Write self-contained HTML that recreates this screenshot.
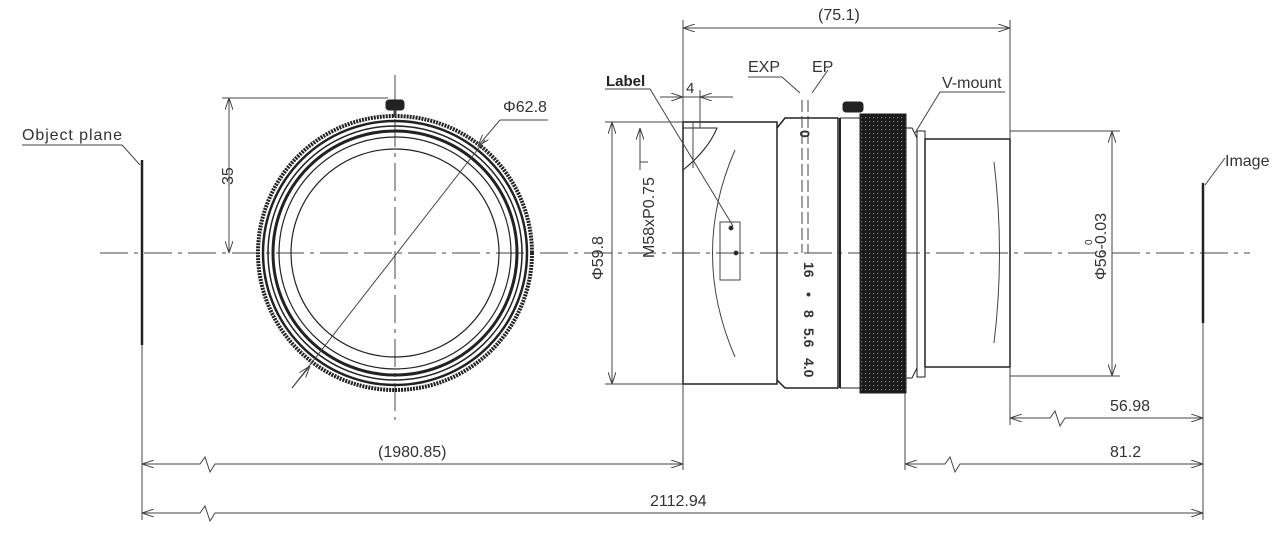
<!DOCTYPE html>
<html><head><meta charset="utf-8"><style>
html,body{margin:0;padding:0;background:#fff;}
svg{display:block}
text{font-family:"Liberation Sans Narrow","Liberation Sans",sans-serif;fill:#333;}
</style></head><body>
<svg width="1280" height="535" viewBox="0 0 1280 535" xmlns="http://www.w3.org/2000/svg">
<defs>
<marker id="a" viewBox="0 0 12 8" refX="12" refY="4" markerWidth="12" markerHeight="8" orient="auto-start-reverse" markerUnits="userSpaceOnUse">
<path d="M0,0 L12,4 L0,8" fill="none" stroke="#444" stroke-width="1"/></marker>
<pattern id="k" width="4" height="4" patternUnits="userSpaceOnUse"><rect width="4" height="4" fill="#1a1a1a"/><rect x="1" y="1" width="1.2" height="1.2" fill="#777"/></pattern>
</defs>
<g stroke="#444" fill="none" stroke-width="1">
<line x1="100" y1="253" x2="1250" y2="253" stroke-dasharray="28,6,4,6"/>
<line x1="395" y1="75" x2="395" y2="420" stroke-dasharray="28,6,4,6"/>
<line x1="142" y1="160" x2="142" y2="345" stroke="#222" stroke-width="2.5"/>
<polyline points="22,145 122,145 140,165"/>
<line x1="1203" y1="183" x2="1203" y2="323" stroke="#222" stroke-width="2.5"/>
<polyline points="1205,185 1225,158"/>
<circle cx="395" cy="253" r="137" stroke="#222" stroke-width="4" stroke-dasharray="2,1"/>
<circle cx="395" cy="253" r="132" stroke="#222" stroke-width="2.5"/>
<circle cx="395" cy="253" r="127" stroke="#222" stroke-width="1.5"/>
<circle cx="395" cy="253" r="122" stroke="#222" stroke-width="3"/>
<circle cx="395" cy="253" r="116" stroke="#222" stroke-width="1.2"/>
<circle cx="395" cy="253" r="104" stroke="#222" stroke-width="1.2"/>
<rect x="386" y="100" width="18" height="10" rx="3" fill="#222" stroke="#222"/>
<line x1="395" y1="110" x2="395" y2="117" stroke-width="3"/>
<line x1="292" y1="388" x2="485" y2="140"/>
<line x1="292" y1="388" x2="310" y2="366" marker-end="url(#a)"/>
<line x1="500" y1="120" x2="478" y2="146" marker-end="url(#a)"/>
<line x1="500" y1="120" x2="548" y2="120"/>
<line x1="222" y1="98" x2="388" y2="98"/>
<line x1="229" y1="98" x2="229" y2="253" marker-start="url(#a)" marker-end="url(#a)"/>
<rect x="683" y="122" width="94" height="262" stroke="#222" stroke-width="1.5"/>
<path d="M683,128 L717,128 Q708,150 683,170" stroke="#222"/>
<line x1="693" y1="122" x2="693" y2="168"/>
<path d="M735,150 Q690,253 735,357"/>
<rect x="720" y="222" width="20" height="58"/>
<circle cx="731" cy="228" r="2" fill="#222"/><circle cx="736" cy="253" r="2" fill="#222"/>
<polyline points="605,89 650,89 733,226"/>
<path d="M777,128 L785,118 L838,118 L838,388 L785,388 L777,380" stroke="#222" stroke-width="1.5"/>
<line x1="840" y1="118" x2="840" y2="388" stroke="#222" stroke-width="2"/>
<line x1="840" y1="118" x2="860" y2="118" stroke="#222"/><line x1="840" y1="388" x2="860" y2="388" stroke="#222"/>
<rect x="860" y="114" width="46" height="279" fill="url(#k)" stroke="#222"/>
<rect x="843" y="102" width="20" height="10" rx="3" fill="#222" stroke="#222"/>
<path d="M906,128 L912,128 L917,138 L917,368 L912,378 L906,378" stroke="#222"/>
<rect x="917" y="131" width="8" height="246" stroke="#222"/>
<rect x="925" y="139" width="85" height="228" stroke="#222" stroke-width="1.5"/>
<path d="M994,162 Q1005,253 994,343"/>
<line x1="802" y1="100" x2="802" y2="253" stroke-dasharray="12,4"/>
<line x1="808" y1="100" x2="808" y2="253" stroke-dasharray="12,4"/>
<polyline points="748,77 782,77 800,93"/>
<polyline points="828,70 812,93"/>
<polyline points="1005,92 940,92 915,133"/>
<line x1="683" y1="97" x2="733" y2="97"/>
<line x1="660" y1="97" x2="683" y2="97" marker-end="url(#a)"/>
<line x1="720" y1="97" x2="700" y2="97" marker-end="url(#a)"/>
<line x1="700" y1="90" x2="700" y2="128"/>
<line x1="683" y1="20" x2="683" y2="122"/>
<line x1="1010" y1="20" x2="1010" y2="139"/>
<line x1="683" y1="28" x2="1010" y2="28" marker-start="url(#a)" marker-end="url(#a)"/>
<line x1="605" y1="122" x2="683" y2="122"/>
<line x1="605" y1="384" x2="683" y2="384"/>
<line x1="612" y1="122" x2="612" y2="384" marker-start="url(#a)" marker-end="url(#a)"/>
<line x1="640" y1="128" x2="640" y2="170" marker-start="url(#a)"/>
<line x1="640" y1="162" x2="648" y2="162"/>
<line x1="1010" y1="131" x2="1120" y2="131"/>
<line x1="1010" y1="376" x2="1120" y2="376"/>
<line x1="1112" y1="131" x2="1112" y2="376" marker-start="url(#a)" marker-end="url(#a)"/>
<line x1="683" y1="384" x2="683" y2="470"/>
<line x1="905" y1="393" x2="905" y2="470"/>
<line x1="1010" y1="367" x2="1010" y2="425"/>
<line x1="1203" y1="323" x2="1203" y2="520"/>
<line x1="142" y1="345" x2="142" y2="520"/>
<polyline points="1010,418 1050,418 1055,411 1060,426 1065,418 1203,418" marker-start="url(#a)" marker-end="url(#a)"/>
<polyline points="905,464 945,464 950,457 955,472 960,464 1203,464" marker-start="url(#a)" marker-end="url(#a)"/>
<polyline points="142,464 200,464 205,457 210,472 215,464 683,464" marker-start="url(#a)" marker-end="url(#a)"/>
<polyline points="142,513 200,513 205,506 210,521 215,513 1203,513" marker-start="url(#a)" marker-end="url(#a)"/>
</g>
<g font-size="16">
<text x="22" y="140" textLength="100">Object plane</text>
<text x="1225" y="166">Image</text>
<text x="503" y="112">Φ62.8</text>
<text x="818" y="20">(75.1)</text>
<text x="748" y="72">EXP</text>
<text x="812" y="72">EP</text>
<text x="942" y="88">V-mount</text>
<text x="686" y="93" font-size="15">4</text>
<text x="378" y="457">(1980.85)</text>
<text x="650" y="506">2112.94</text>
<text x="1110" y="411">56.98</text>
<text x="1110" y="457">81.2</text>
<text x="606" y="86" font-weight="bold" font-size="15" font-family="Liberation Sans,sans-serif" style="fill:#222">Label</text>
<text transform="translate(233,185) rotate(-90)">35</text>
<text transform="translate(603,280) rotate(-90)">Φ59.8</text>
<text transform="translate(654,258) rotate(-90)">M58xP0.75</text>
<text transform="translate(1106,280) rotate(-90)">Φ56-0.03</text>
<text transform="translate(1092,245) rotate(-90)" font-size="10">0</text>
</g>
<g font-size="14" font-weight="bold" font-family="Liberation Sans,sans-serif" style="fill:#222">
<text transform="translate(800,130) rotate(90)">0</text>
<text transform="translate(804,262) rotate(90)">16</text>
<text transform="translate(804,292) rotate(90)">•</text>
<text transform="translate(804,310) rotate(90)">8</text>
<text transform="translate(804,328) rotate(90)">5.6</text>
<text transform="translate(804,358) rotate(90)">4.0</text>
</g>
</svg>
</body></html>
